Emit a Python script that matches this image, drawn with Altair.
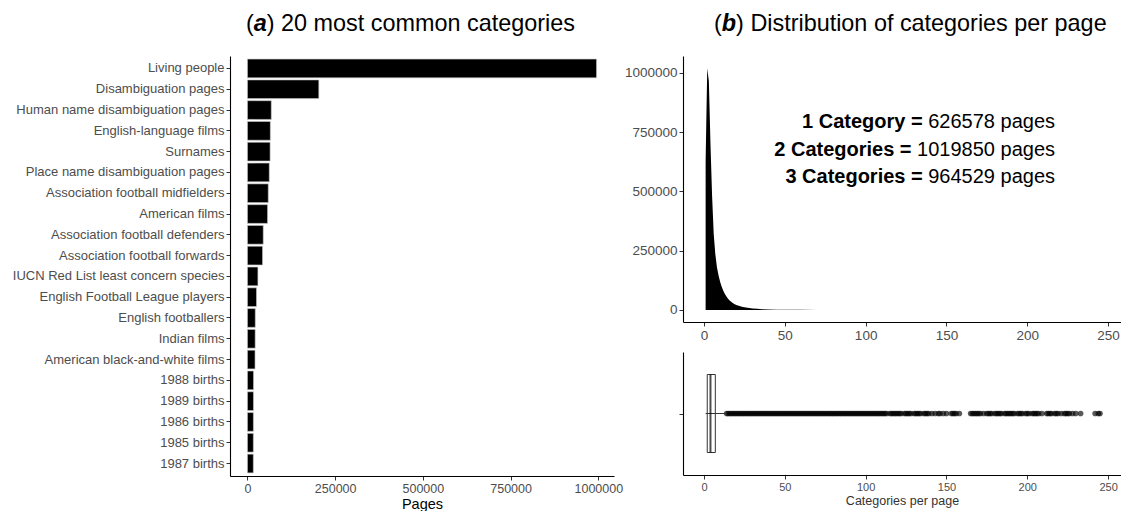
import altair as alt
import pandas as pd

FONT = "Liberation Sans"

# ---------------- data ----------------
categories = [
    "Living people", "Disambiguation pages", "Human name disambiguation pages",
    "English-language films", "Surnames", "Place name disambiguation pages",
    "Association football midfielders", "American films",
    "Association football defenders", "Association football forwards",
    "IUCN Red List least concern species", "English Football League players",
    "English footballers", "Indian films", "American black-and-white films",
    "1988 births", "1989 births", "1986 births", "1985 births", "1987 births",
]
pages = [
    995000, 203400, 67900, 65200, 64600, 62200, 59300, 57300, 45000, 43000,
    29800, 25800, 22300, 22000, 21600, 17300, 17100, 16900, 16800, 16700,
]

n_categories = [1, 2, 3, 4, 5, 6, 7, 8, 9, 10, 11, 12, 13, 14, 15, 16, 17, 18, 19, 20,
                22, 24, 26, 28, 30, 33, 36, 40, 45, 50, 60, 70]
n_pages = [626578, 1019850, 964529, 700000, 480000, 320000, 235000, 180000, 145000, 118000,
           97000, 80000, 66000, 55000, 46000, 39000, 33000, 28000, 24000, 20500,
           16000, 12500, 10000, 8000, 6300, 4500, 3200, 2000, 1100, 600, 200, 70]

annot_bold = ["1 Category =", "2 Categories =", "3 Categories ="]
annot_normal = ["626578 pages", "1019850 pages", "964529 pages"]

box_low, box_q1, box_median, box_q3, box_high = 1, 2, 4, 7, 13
outliers = [
    14, 15, 16, 17, 18, 19, 20, 21, 22, 23, 24, 25, 26, 27, 28, 29, 30, 31, 32, 33,
    34, 35, 36, 37, 38, 39, 40, 41, 42, 43, 44, 45, 46, 47, 48, 49, 50, 51, 52, 53,
    54, 55, 56, 57, 58, 59, 60, 61, 62, 63, 64, 65, 66, 67, 68, 69, 70, 71, 72, 73,
    74, 75, 76, 77, 78, 79, 80, 81, 82, 83, 84, 85, 86, 87, 88, 89, 90, 91, 92, 93,
    94, 95, 96, 97, 98, 99, 100, 101, 102, 103, 104, 105, 106, 107, 108, 109, 110, 111, 112, 113,
    115, 116, 117, 118, 119, 120, 121, 122, 124, 125, 126, 127, 128, 130, 131, 132, 133, 134,
    136, 137, 138, 139, 141, 143, 145, 146, 148, 150, 153, 154, 155, 156, 158,
    165, 166, 167, 168, 169, 170, 171, 173, 175, 176, 177, 178, 180, 181, 182, 183, 184,
    186, 187, 188, 189, 190, 191, 192, 194, 195, 196, 197, 199, 200, 201, 203, 204, 205,
    206, 207, 209, 212, 213, 214, 215, 217, 218, 219, 221, 223, 224, 225, 226, 228, 230,
    233, 242, 244, 245,
]

title_a = ["(", "a", ") 20 most common categories"]
title_b = ["(", "b", ") Distribution of categories per page"]

# ---------------- helpers ----------------
def text_piece(s, x, y, size, weight="normal", style="normal", align="left", baseline="alphabetic"):
    return alt.Chart(pd.DataFrame({"t": [s]})).mark_text(
        font=FONT, fontSize=size, fontWeight=weight, fontStyle=style,
        align=align, baseline=baseline, color="black",
    ).encode(text="t:N", x=alt.value(x), y=alt.value(y))

TS = 23.4  # title font size
TY = -25   # title baseline relative to plot top

# ---------------- panel (a) ----------------
W_A, H_A = 384, 420
bar_df = pd.DataFrame({"category": categories, "pages": pages})
bars = alt.Chart(bar_df).mark_bar(color="black", stroke="#c8c8c8", strokeWidth=0.6).encode(
    x=alt.X("pages:Q",
            scale=alt.Scale(domain=[-49750, 1044750], nice=False, zero=False),
            axis=alt.Axis(values=[0, 250000, 500000, 750000, 1000000], format="d",
                          title="Pages", labelFontSize=12.5, titleFontSize=14.5,
                          titlePadding=3, labelPadding=2)),
    y=alt.Y("category:N", sort=categories,
            scale=alt.Scale(paddingInner=0.1, paddingOuter=0.15),
            axis=alt.Axis(title=None, labelFontSize=13, labelLimit=400, labelPadding=2)),
)
xa = 16
ta = [
    text_piece(title_a[0], xa, TY, TS),
    text_piece(title_a[1], xa + 0.333 * TS, TY, TS, weight="bold", style="italic"),
    text_piece(title_a[2], xa + (0.333 + 0.556) * TS, TY, TS),
]
panel_a = alt.layer(bars, *ta).properties(width=W_A, height=H_A)

# ---------------- panel (b) top ----------------
W_B, H_BT, H_BB = 438, 266, 123
XS = alt.Scale(domain=[-13, 258], nice=False, zero=False)
dens_df = pd.DataFrame({"n": n_categories, "count": n_pages})
area = alt.Chart(dens_df).mark_area(color="black", interpolate="linear").encode(
    x=alt.X("n:Q", scale=XS,
            axis=alt.Axis(values=[0, 50, 100, 150, 200, 250], title=None,
                          labelFontSize=13.5, labelPadding=2)),
    y=alt.Y("count:Q", scale=alt.Scale(domain=[-51000, 1071000], nice=False, zero=False),
            axis=alt.Axis(values=[0, 250000, 500000, 750000, 1000000], format="d",
                          title=None, labelFontSize=13.5, labelPadding=2)),
)
AS = 20
right_end = 372
ann_layers = []
ann_y = [66, 94, 121]
normal_w = [6.338, 6.894, 6.338]
for b, nrm, yy, w in zip(annot_bold, annot_normal, ann_y, normal_w):
    anchor = right_end - w * AS
    ann_layers.append(text_piece(nrm, anchor, yy, AS, baseline="middle"))
    ann_layers.append(text_piece(b, anchor - 0.278 * AS, yy, AS, weight="bold",
                                 align="right", baseline="middle"))
xb = 31
tb = [
    text_piece(title_b[0], xb, TY, TS),
    text_piece(title_b[1], xb + 0.333 * TS, TY, TS, weight="bold", style="italic"),
    text_piece(title_b[2], xb + (0.333 + 0.611) * TS, TY, TS),
]
panel_b_top = alt.layer(area, *ann_layers, *tb).properties(width=W_B, height=H_BT)

# ---------------- panel (b) bottom: boxplot ----------------
box_df = pd.DataFrame({"g": ["all"], "low": [box_low], "q1": [box_q1],
                       "median": [box_median], "q3": [box_q3], "high": [box_high]})
out_df = pd.DataFrame({"g": ["all"] * len(outliers), "v": outliers})
YB = alt.Y("g:N", scale=alt.Scale(type="point", padding=0.5),
           axis=alt.Axis(title=None, labels=False, ticks=True, tickSize=4))
XB = alt.X("v:Q", scale=XS,
           axis=alt.Axis(values=[0, 50, 100, 150, 200, 250], title="Categories per page",
                         labelFontSize=11, titleFontSize=12.5, titleColor="#333333",
                         labelPadding=2, titlePadding=2))
pts = alt.Chart(out_df).mark_circle(size=32, color="black", opacity=0.65).encode(x=XB, y=YB)
box = alt.Chart(box_df).mark_bar(size=78, fill="white", stroke="#333333", strokeWidth=1).encode(
    x=alt.X("q1:Q", scale=XS), x2="q3:Q", y=YB)
whisk = alt.Chart(box_df).mark_rule(color="#333333", strokeWidth=1).encode(
    x=alt.X("low:Q", scale=XS), x2="high:Q", y=YB)
med = alt.Chart(box_df).mark_tick(orient="vertical", size=78, thickness=2, color="black").encode(
    x=alt.X("median:Q", scale=XS), y=YB)
panel_b_bot = alt.layer(pts, box, whisk, med).properties(width=W_B, height=H_BB)

right = alt.vconcat(panel_b_top, panel_b_bot, spacing=10)
chart = alt.hconcat(panel_a, right, spacing=1).properties(
    padding={"left": 4, "top": 4, "right": 0, "bottom": 0}
).configure(font=FONT).configure_view(stroke=None).configure_axis(
    domainColor="black", domainWidth=1.1, tickColor="#333333", tickWidth=1, tickSize=4,
    labelColor="#4d4d4d", labelFont=FONT, titleFont=FONT, titleFontWeight="normal",
    titleColor="black", grid=False,
)

chart.save("out.html", embed_options={"renderer": "svg", "actions": False})
